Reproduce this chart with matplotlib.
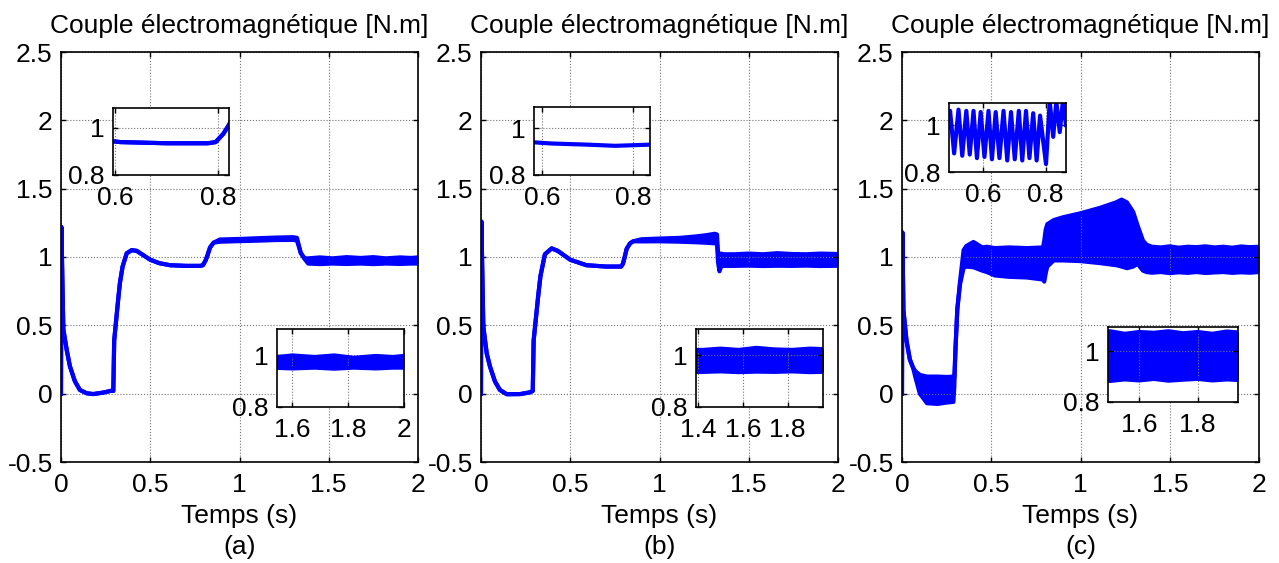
import matplotlib.pyplot as plt
from matplotlib.ticker import FormatStrFormatter

plt.rcParams['font.family'] = ['Liberation Sans', 'DejaVu Sans']
plt.rcParams['font.size'] = 19
plt.rcParams['axes.unicode_minus'] = False

# ---- torque, case (a): time [s], lower / upper edge of the trace [N.m]
t_a = [0.0, 0.002, 0.013, 0.032, 0.05, 0.078, 0.106, 0.144, 0.18, 0.237,
       0.284, 0.293, 0.298, 0.32, 0.33, 0.345, 0.368, 0.396, 0.424, 0.5,
       0.55, 0.61, 0.7, 0.78, 0.795, 0.81, 0.82, 0.835, 0.855, 0.89,
       1.0, 1.115, 1.2, 1.3, 1.322, 1.343, 1.365, 1.385, 1.45, 1.52,
       1.6, 1.68, 1.75, 1.82, 1.9, 1.96, 2.0]
lo_a = [0.0, 1.22, 0.47, 0.32, 0.2, 0.09, 0.027, 0.003, -0.003, 0.008,
        0.022, 0.02, 0.39, 0.685, 0.81, 0.93, 1.027, 1.05, 1.045, 0.98,
        0.955, 0.94, 0.935, 0.935, 0.94, 0.975, 1.01, 1.07, 1.105, 1.112,
        1.116, 1.12, 1.124, 1.125, 1.12, 1.03, 0.985, 0.952, 0.948, 0.952,
        0.949, 0.952, 0.948, 0.952, 0.949, 0.952, 0.952]
hi_a = [0.0, 1.22, 0.47, 0.32, 0.2, 0.09, 0.027, 0.003, -0.003, 0.008,
        0.022, 0.02, 0.39, 0.685, 0.81, 0.93, 1.027, 1.05, 1.045, 0.98,
        0.955, 0.94, 0.935, 0.935, 0.94, 0.975, 1.01, 1.07, 1.105, 1.128,
        1.132, 1.138, 1.142, 1.145, 1.14, 1.03, 0.99, 0.99, 0.997, 0.99,
        0.999, 0.993, 0.999, 0.99, 0.997, 0.993, 0.997]

# ---- case (b)
t_b = [0.0, 0.002, 0.013, 0.032, 0.05, 0.078, 0.106, 0.144, 0.22, 0.275,
       0.29, 0.295, 0.32, 0.333, 0.358, 0.396, 0.43, 0.5, 0.59, 0.7,
       0.785, 0.795, 0.805, 0.816, 0.835, 0.853, 0.9, 1.0, 1.115, 1.2,
       1.264, 1.31, 1.322, 1.328, 1.336, 1.345, 1.36, 1.42, 1.5, 1.58,
       1.66, 1.74, 1.82, 1.9, 2.0]
lo_b = [0.0, 1.26, 0.49, 0.295, 0.2, 0.09, 0.027, -0.004, -0.003, 0.01,
        0.02, 0.39, 0.71, 0.86, 1.02, 1.063, 1.045, 0.98, 0.94, 0.93,
        0.93, 0.95, 1.0, 1.06, 1.1, 1.115, 1.114, 1.115, 1.112, 1.108,
        1.104, 1.1, 1.1, 0.96, 0.895, 0.93, 0.935, 0.935, 0.937, 0.934,
        0.936, 0.935, 0.937, 0.934, 0.936]
hi_b = [0.0, 1.26, 0.49, 0.295, 0.2, 0.09, 0.027, -0.004, -0.003, 0.01,
        0.02, 0.39, 0.71, 0.86, 1.02, 1.063, 1.045, 0.98, 0.94, 0.93,
        0.93, 0.95, 1.0, 1.06, 1.1, 1.115, 1.13, 1.135, 1.14, 1.15,
        1.16, 1.17, 1.165, 1.03, 1.02, 1.025, 1.02, 1.02, 1.025, 1.02,
        1.028, 1.022, 1.02, 1.025, 1.022]
# zoom window (b), 0.58 - 0.84 s
t_bz = [0.583, 0.62, 0.7, 0.76, 0.836]
v_bz = [0.94, 0.935, 0.93, 0.925, 0.93]

# ---- case (c)
t_c = [0.0, 0.002, 0.008, 0.025, 0.044, 0.062, 0.075, 0.1, 0.14, 0.2,
       0.25, 0.288, 0.293, 0.3, 0.31, 0.325, 0.345, 0.36, 0.4, 0.45,
       0.475, 0.52, 0.6, 0.7, 0.79, 0.797, 0.805, 0.814, 0.85, 0.9,
       1.0, 1.11, 1.2, 1.23, 1.26, 1.295, 1.32, 1.35, 1.37, 1.4,
       1.45, 1.5, 1.55, 1.6, 1.65, 1.7, 1.75, 1.8, 1.85, 1.9,
       1.95, 2.0]
lo_c = [0.0, 1.18, 0.61, 0.39, 0.25, 0.19, 0.12, 0.0, -0.07, -0.075,
        -0.065, -0.06, 0.05, 0.34, 0.62, 0.8, 0.92, 0.93, 0.925, 0.9,
        0.89, 0.865, 0.855, 0.85, 0.835, 0.82, 0.88, 0.93, 0.975, 0.975,
        0.97, 0.955, 0.94, 0.93, 0.918, 0.93, 0.95, 0.9, 0.89, 0.885,
        0.89, 0.882, 0.888, 0.884, 0.89, 0.883, 0.887, 0.89, 0.884, 0.888,
        0.885, 0.89]
hi_c = [0.0, 1.18, 0.61, 0.39, 0.25, 0.19, 0.165, 0.137, 0.125, 0.125,
        0.122, 0.125, 0.12, 0.34, 0.62, 0.82, 1.05, 1.08, 1.11, 1.07,
        1.075, 1.065, 1.07, 1.065, 1.07, 1.12, 1.2, 1.24, 1.27, 1.29,
        1.32, 1.36, 1.4, 1.42, 1.4, 1.33, 1.23, 1.12, 1.09, 1.075,
        1.07, 1.078, 1.068, 1.075, 1.072, 1.078, 1.07, 1.075, 1.068, 1.077,
        1.072, 1.075]
# zoom window (c), oscillation peaks and troughs 0.49 - 0.87 s
t_cz = [0.489, 0.494, 0.507, 0.521, 0.533, 0.546, 0.557, 0.569, 0.580, 0.592,
        0.604, 0.617, 0.628, 0.640, 0.652, 0.665, 0.677, 0.689, 0.701, 0.714,
        0.725, 0.737, 0.748, 0.760, 0.771, 0.782, 0.801, 0.813, 0.824, 0.834,
        0.845, 0.855, 0.865]
v_cz = [0.99, 1.06, 0.88, 1.065, 0.87, 1.06, 0.875, 1.06, 0.86, 1.055,
        0.865, 1.06, 0.855, 1.055, 0.86, 1.06, 0.85, 1.055, 0.855, 1.06,
        0.85, 1.06, 0.86, 1.05, 0.85, 1.04, 0.835, 1.1, 0.95, 1.1,
        0.97, 1.1, 1.0]

panel_tags = ['(a)', '(b)', '(c)']
title_txt = 'Couple électromagnétique [N.m]'

W, H = 1279, 563
BLUE = '#0000ff'
LW = 3.0


def box_axes(fig, left, right, top, bottom):
    # pixel box -> figure fraction
    return fig.add_axes([left / W, 1 - bottom / H, (right - left) / W, (bottom - top) / H])


def style(ax):
    ax.tick_params(direction='in', length=3.5, width=1, top=True, right=True)
    ax.tick_params(axis='x', pad=8)
    ax.tick_params(axis='y', pad=6)
    for s in ax.spines.values():
        s.set_linewidth(1.2)
    ax.grid(True, color='0.45', linestyle=':', linewidth=0.8)
    ax.xaxis.set_major_formatter(FormatStrFormatter('%g'))
    ax.yaxis.set_major_formatter(FormatStrFormatter('%g'))


def trace(ax, t, lo, hi):
    ax.fill_between(t, lo, hi, color=BLUE, lw=0)
    ax.plot(t, lo, color=BLUE, lw=LW)
    ax.plot(t, hi, color=BLUE, lw=LW)


fig = plt.figure(figsize=(12.79, 5.63), dpi=100)

main_boxes = [(61, 418, 52, 462), (481, 838, 52, 462), (902, 1259, 52, 462)]
series = [(t_a, lo_a, hi_a), (t_b, lo_b, hi_b), (t_c, lo_c, hi_c)]

for (l, r, tp, bt), (t, lo, hi), tag in zip(main_boxes, series, panel_tags):
    ax = box_axes(fig, l, r, tp, bt)
    trace(ax, t, lo, hi)
    ax.set_xlim(0, 2)
    ax.set_ylim(-0.5, 2.5)
    ax.set_xticks([0, 0.5, 1, 1.5, 2])
    ax.set_yticks([-0.5, 0, 0.5, 1, 1.5, 2, 2.5])
    style(ax)
    ax.set_title(title_txt, pad=13.5, fontsize=19)
    ax.set_xlabel('Temps (s)', labelpad=5)
    ax.text(0.5, -0.208, tag, transform=ax.transAxes, ha='center', va='center')

# zoomed windows: upper (0.5 - 0.85 s) and lower (steady state)
upper_boxes = [(112.7, 229, 108, 175), (534, 650, 107.3, 175), (948.5, 1066, 103.3, 172.3)]
upper_xlim = [(0.5955, 0.821), (0.583, 0.836), (0.489, 0.865)]
upper_ylim = [(0.8, 1.085), (0.8, 1.09), (0.8, 1.092)]

lower_boxes = [(277.3, 404, 329.3, 407), (695.7, 822.7, 329.3, 406.7), (1107.7, 1238.3, 326.7, 401.7)]
lower_xlim = [(1.546, 2.0), (1.388, 1.957), (1.492, 1.939)]
lower_xticks = [[1.6, 1.8, 2], [1.4, 1.6, 1.8], [1.6, 1.8]]
lower_ylim = [(0.8, 1.1), (0.8, 1.1), (0.8, 1.096)]

for i in range(3):
    ax = box_axes(fig, *upper_boxes[i])
    if i == 0:
        trace(ax, t_a, lo_a, hi_a)
    elif i == 1:
        ax.plot(t_bz, v_bz, color=BLUE, lw=LW)
    else:
        ax.plot(t_cz, v_cz, color=BLUE, lw=LW)
    ax.set_xlim(*upper_xlim[i])
    ax.set_ylim(*upper_ylim[i])
    ax.set_xticks([0.6, 0.8])
    ax.set_yticks([0.8, 1])
    style(ax)

    ax = box_axes(fig, *lower_boxes[i])
    trace(ax, *series[i])
    ax.set_xlim(*lower_xlim[i])
    ax.set_ylim(*lower_ylim[i])
    ax.set_xticks(lower_xticks[i])
    ax.set_yticks([0.8, 1])
    style(ax)

fig.savefig('out.png', dpi=100)
